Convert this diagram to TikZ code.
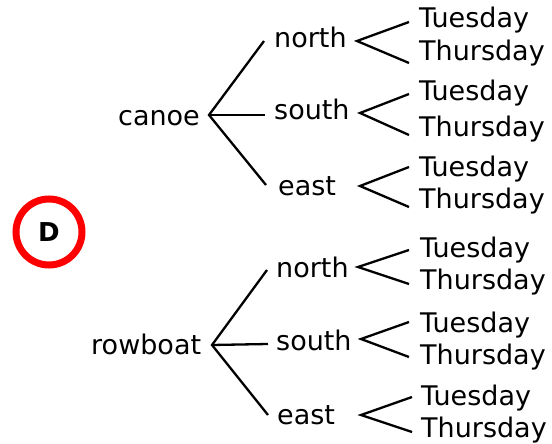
\documentclass[tikz,border=0pt]{standalone}
\usepackage{fontspec}
\setmainfont{DejaVu Sans}
\begin{document}
\begin{tikzpicture}[x=1pt,y=-1pt,
  lbl/.style={anchor=base west,inner sep=0pt,font=\fontsize{27}{30}\selectfont},
  edge/.style={line width=2.3pt,black}]
\useasboundingbox (0,0) rectangle (552,444);

% answer marker
\node[circle,draw=red,line width=7pt,minimum size=66pt,inner sep=0pt,
      font=\fontsize{26}{28}\bfseries\selectfont] (opt) at (49,232) {D};

% ---- canoe tree ----
\node[lbl] (canoe) at (118,125) {canoe};
\coordinate (cf) at (209,115);
\node[lbl] (cn) at (274,48) {north};
\node[lbl] (cs) at (274,120) {south};
\node[lbl] (ce) at (278,195) {east};
\coordinate (cnE) at (264,41);
\coordinate (csE) at (265,115);
\coordinate (ceE) at (266,185);
\draw[edge] (cnE) -- (cf) -- (ceE);
\draw[edge] (cf) -- (csE);

\node[lbl] (cnTu) at (419,28) {Tuesday};
\node[lbl] (cnTh) at (419,61) {Thursday};
\node[lbl] (csTu) at (419,100) {Tuesday};
\node[lbl] (csTh) at (419,136) {Thursday};
\node[lbl] (ceTu) at (419,176) {Tuesday};
\node[lbl] (ceTh) at (419,208) {Thursday};
\coordinate (cnV) at (357,41);   \coordinate (cnA) at (409,22);  \coordinate (cnB) at (409,63);
\coordinate (csV) at (360,113);  \coordinate (csA) at (409,94);  \coordinate (csB) at (409,135);
\coordinate (ceV) at (360,186);  \coordinate (ceA) at (409,167); \coordinate (ceB) at (409,207);
\draw[edge] (cnA) -- (cnV) -- (cnB);
\draw[edge] (csA) -- (csV) -- (csB);
\draw[edge] (ceA) -- (ceV) -- (ceB);

% ---- rowboat tree ----
\node[lbl] (row) at (91,354) {rowboat};
\coordinate (rf) at (212,345);
\node[lbl] (rn) at (276,277) {north};
\node[lbl] (rs) at (276,350) {south};
\node[lbl] (re) at (277,424) {east};
\coordinate (rnE) at (267,270);
\coordinate (rsE) at (268,344);
\coordinate (reE) at (268,415);
\draw[edge] (rnE) -- (rf) -- (reE);
\draw[edge] (rf) -- (rsE);

\node[lbl] (rnTu) at (420,257) {Tuesday};
\node[lbl] (rnTh) at (420,289) {Thursday};
\node[lbl] (rsTu) at (420,332) {Tuesday};
\node[lbl] (rsTh) at (420,364) {Thursday};
\node[lbl] (reTu) at (421,405) {Tuesday};
\node[lbl] (reTh) at (421,437) {Thursday};
\coordinate (rnV) at (358,267);  \coordinate (rnA) at (409,250); \coordinate (rnB) at (409,284);
\coordinate (rsV) at (361,339);  \coordinate (rsA) at (409,322); \coordinate (rsB) at (409,357);
\coordinate (reV) at (361,415);  \coordinate (reA) at (412,397); \coordinate (reB) at (412,432);
\draw[edge] (rnA) -- (rnV) -- (rnB);
\draw[edge] (rsA) -- (rsV) -- (rsB);
\draw[edge] (reA) -- (reV) -- (reB);
\end{tikzpicture}
\end{document}
